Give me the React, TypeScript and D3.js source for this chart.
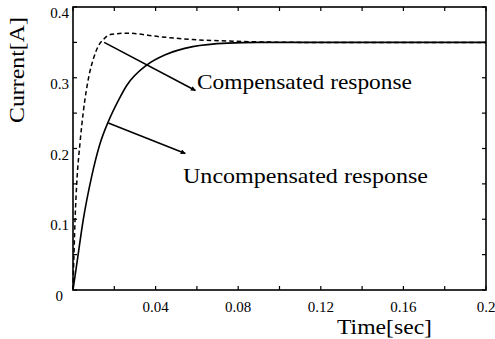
import * as d3 from 'd3';
import React, { useEffect, useRef } from 'react';

// values
const uncompTime = [0, 0.002, 0.005, 0.009, 0.013, 0.0171, 0.022, 0.026, 0.0357, 0.045, 0.058, 0.075, 0.09, 0.12, 0.16, 0.2];
const uncompCurrent = [0, 0.04, 0.1, 0.16, 0.206, 0.238, 0.268, 0.289, 0.318, 0.333, 0.344, 0.349, 0.35, 0.35, 0.35, 0.35];

const compTime = [0, 0.001, 0.0018, 0.0034, 0.005, 0.0079, 0.0099, 0.0123, 0.0147, 0.018, 0.026, 0.042, 0.058, 0.0746, 0.11, 0.16, 0.2];
const compCurrent = [0, 0.1, 0.15, 0.208, 0.252, 0.305, 0.327, 0.345, 0.354, 0.361, 0.363, 0.358, 0.354, 0.352, 0.35, 0.35, 0.35];

const xLabelTicks = [0.04, 0.08, 0.12, 0.16, 0.2];
const xMinorTicks = [0, 0.02, 0.04, 0.06, 0.08, 0.1, 0.12, 0.14, 0.16, 0.18, 0.2];
const yLabelTicks = [0, 0.1, 0.2, 0.3, 0.4];
const yMinorTicks = [0, 0.05, 0.1, 0.15, 0.2, 0.25, 0.3, 0.35, 0.4];

// annotations: [arrow tail (t, I), arrow head (t, I)]
const compArrow = [[0.0151, 0.35], [0.0593, 0.282]];
const uncompArrow = [[0.0171, 0.236], [0.0544, 0.193]];

export default () => {
    const ref = useRef<any>();

    useEffect(() => {
        const width = 495;
        const height = 339;
        const margin = { top: 7, right: 9, bottom: 49, left: 73 };

        const svg = d3.select<any, any>(ref.current)
            .attr('width', width)
            .attr('height', height);
        svg.selectAll('*').remove();

        const x = d3.scaleLinear().domain([0, 0.2]).range([margin.left, width - margin.right]);
        const y = d3.scaleLinear().domain([0, 0.4]).range([height - margin.bottom, margin.top]);

        const font = 'Liberation Serif, Times New Roman, Times, serif';

        const defs = svg.append('defs');
        defs.append('marker')
            .attr('id', 'head')
            .attr('viewBox', '0 0 10 10')
            .attr('refX', 9)
            .attr('refY', 5)
            .attr('markerWidth', 6)
            .attr('markerHeight', 5)
            .attr('markerUnits', 'userSpaceOnUse')
            .attr('orient', 'auto')
            .append('path')
            .attr('d', 'M0,0L10,5L0,10Z')
            .attr('fill', '#000');

        // frame
        svg.append('rect')
            .attr('x', x(0))
            .attr('y', y(0.4))
            .attr('width', x(0.2) - x(0))
            .attr('height', y(0) - y(0.4))
            .attr('fill', 'none')
            .attr('stroke', '#000')
            .attr('stroke-width', 1.6);

        // inward ticks, all four sides
        const tl = 4;
        const ticks = svg.append('g').attr('stroke', '#000').attr('stroke-width', 1.2);
        xMinorTicks.forEach((d) => {
            ticks.append('line').attr('x1', x(d)).attr('x2', x(d)).attr('y1', y(0)).attr('y2', y(0) - tl);
            ticks.append('line').attr('x1', x(d)).attr('x2', x(d)).attr('y1', y(0.4)).attr('y2', y(0.4) + tl);
        });
        yMinorTicks.forEach((d) => {
            ticks.append('line').attr('x1', x(0)).attr('x2', x(0) + tl).attr('y1', y(d)).attr('y2', y(d));
            ticks.append('line').attr('x1', x(0.2)).attr('x2', x(0.2) - tl).attr('y1', y(d)).attr('y2', y(d));
        });

        // tick labels
        svg.append('g').selectAll('text').data(xLabelTicks).join('text')
            .attr('x', (d: number) => x(d))
            .attr('y', y(0) + 22)
            .attr('text-anchor', 'middle')
            .attr('font-family', font)
            .attr('font-size', 15)
            .text((d: number) => String(+d.toFixed(2)));

        svg.append('g').selectAll('text').data(yLabelTicks).join('text')
            .attr('x', (d: number) => d === 0 ? x(0) - 10 : x(0) - 4)
            .attr('y', (d: number) => y(d) + 11)
            .attr('text-anchor', 'end')
            .attr('font-family', font)
            .attr('font-size', 15)
            .text((d: number) => String(+d.toFixed(1)));

        // curves
        const line = d3.line<[number, number]>()
            .x((d) => x(d[0]))
            .y((d) => y(d[1]))
            .curve(d3.curveMonotoneX);

        svg.append('path')
            .datum(uncompTime.map((t, i) => [t, uncompCurrent[i]] as [number, number]))
            .attr('d', line)
            .attr('fill', 'none')
            .attr('stroke', '#000')
            .attr('stroke-width', 1.6);

        svg.append('path')
            .datum(compTime.map((t, i) => [t, compCurrent[i]] as [number, number]))
            .attr('d', line)
            .attr('fill', 'none')
            .attr('stroke', '#000')
            .attr('stroke-width', 1.5)
            .attr('stroke-dasharray', '4.5,3');

        // arrows
        [compArrow, uncompArrow].forEach((a) => {
            svg.append('line')
                .attr('x1', x(a[0][0])).attr('y1', y(a[0][1]))
                .attr('x2', x(a[1][0])).attr('y2', y(a[1][1]))
                .attr('stroke', '#000')
                .attr('stroke-width', 1.6)
                .attr('marker-end', 'url(#head)');
        });

        // annotations
        svg.append('text')
            .attr('x', 197).attr('y', 89)
            .attr('font-family', font).attr('font-size', 21)
            .attr('textLength', 215).attr('lengthAdjust', 'spacingAndGlyphs')
            .text('Compensated response');
        svg.append('text')
            .attr('x', 183).attr('y', 183)
            .attr('font-family', font).attr('font-size', 21)
            .attr('textLength', 245).attr('lengthAdjust', 'spacingAndGlyphs')
            .text('Uncompensated response');

        // axis titles
        svg.append('text')
            .attr('x', 337).attr('y', 334)
            .attr('font-family', font).attr('font-size', 22)
            .attr('textLength', 95).attr('lengthAdjust', 'spacingAndGlyphs')
            .text('Time[sec]');
        svg.append('text')
            .attr('transform', 'translate(24,123) rotate(-90)')
            .attr('font-family', font).attr('font-size', 21)
            .attr('textLength', 106).attr('lengthAdjust', 'spacingAndGlyphs')
            .text('Current[A]');
    }, []);

    return (
        <div style={{ position: 'absolute', left: 0, top: 0, background: '#fff' }}>
            <svg ref={ref} style={{ display: 'block' }}></svg>
        </div>
    );
};
